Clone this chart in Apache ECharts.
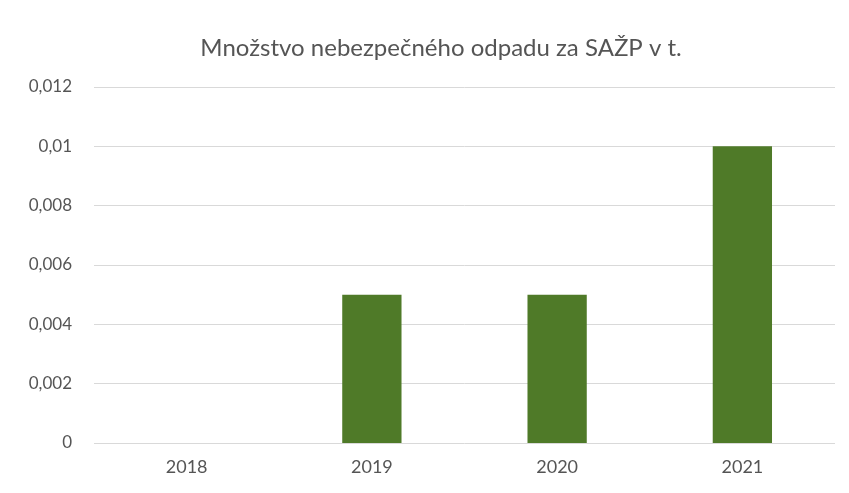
<!DOCTYPE html>
<html>
<head>
<meta charset="utf-8">
<script src="https://cdn.jsdelivr.net/npm/echarts@6/dist/echarts.min.js"></script>
<style>html,body{margin:0;padding:0;background:#fff;}#c{width:849px;height:493px;}</style>
</head>
<body>
<div id="c"></div>
<script>
const title = 'Množstvo nebezpečného odpadu za SAŽP v t.';
const categories = ['2018', '2019', '2020', '2021'];
const values = [0, 0.005, 0.005, 0.01];
const yTicks = [0, 0.002, 0.004, 0.006, 0.008, 0.01, 0.012];

const chart = echarts.init(document.getElementById('c'), null, {renderer: 'canvas'});
chart.setOption({
  animation: false,
  backgroundColor: '#ffffff',
  title: {
    text: title,
    left: 436, top: 31, textAlign: 'center',
    textStyle: {fontFamily: 'Lato', fontSize: 24, fontWeight: 'normal', color: '#555555'}
  },
  grid: {left: 94, right: 14, top: 87, bottom: 50, containLabel: false},
  xAxis: {
    type: 'category',
    data: categories,
    axisLine: {show: false},
    axisTick: {show: false},
    axisLabel: {fontFamily: 'Lato', fontSize: 18, color: '#555555', margin: 15}
  },
  yAxis: {
    type: 'value',
    min: yTicks[0], max: yTicks[yTicks.length - 1], interval: 0.002,
    axisLine: {show: false},
    axisTick: {show: false},
    splitLine: {lineStyle: {color: '#d9d9d9', width: 1}},
    axisLabel: {
      fontFamily: 'Lato', fontSize: 17, color: '#555555', margin: 22,
      formatter: v => String(parseFloat(v.toFixed(4))).replace('.', ',')
    }
  },
  series: [{
    type: 'bar',
    data: values,
    barWidth: '32%',
    itemStyle: {color: '#4f7a28'}
  }]
});
</script>
</body>
</html>
